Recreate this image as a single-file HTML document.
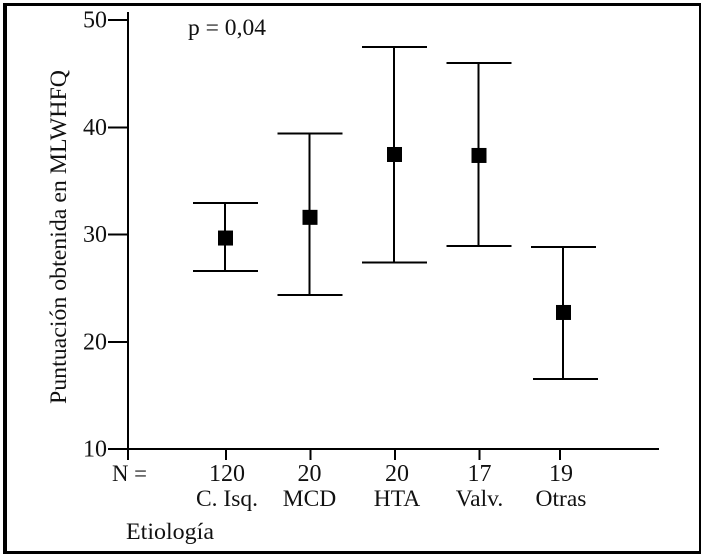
<!DOCTYPE html>
<html lang="es">
<head>
<meta charset="utf-8">
<title>Puntuación MLWHFQ por etiología</title>
<style>
html,body{margin:0;padding:0;background:#fff;}
svg{display:block;}
text{font-family:"Liberation Serif",serif;font-size:23.5px;fill:#111;}
line{shape-rendering:crispEdges;}
</style>
</head>
<body>
<svg id="chart" xmlns="http://www.w3.org/2000/svg" width="704" height="557" viewBox="0 0 704 557">
  <rect x="0" y="0" width="704" height="557" fill="#fff"/>
  <rect x="3" y="3" width="698" height="3" fill="#000"/>
  <rect x="3" y="3" width="4" height="551" fill="#000"/>
  <rect x="3" y="551" width="698" height="3" fill="#000"/>
  <rect x="699" y="3" width="2" height="551" fill="#000"/>
  <line x1="128" y1="12" x2="128" y2="460" stroke="#000" stroke-width="2"/>
  <line x1="108" y1="449" x2="659" y2="449" stroke="#000" stroke-width="2"/>
  <text transform="translate(66 404) rotate(-90)" textLength="334" lengthAdjust="spacingAndGlyphs">Puntuación obtenida en MLWHFQ</text>
  <text x="188" y="35" textLength="78" lengthAdjust="spacingAndGlyphs">p = 0,04</text>
  <text x="112" y="481" textLength="35" lengthAdjust="spacingAndGlyphs">N =</text>
  <text x="126" y="539" textLength="88" lengthAdjust="spacingAndGlyphs">Etiología</text>
  <g id="plot"></g>
</svg>
<script>
const categories = ["C. Isq.", "MCD", "HTA", "Valv.", "Otras"];
const counts = ["120", "20", "20", "17", "19"];
const means = [29.67, 31.6, 37.46, 37.37, 22.73];
const upper = [32.94, 39.4, 47.5, 46.0, 28.83];
const lower = [26.6, 24.36, 27.37, 28.93, 16.53];
const yTicks = [10, 20, 30, 40, 50];

const NS = "http://www.w3.org/2000/svg";
const plot = document.getElementById("plot");
const lastIndex = categories.length - 1;

function yScale(v) { return 449 - (v - 10) * 10.725; }
function xScale(i) { return 225.5 + 84.5 * i; }
function tickScale(i) { return i === lastIndex ? xScale(i) - 3.5 : xScale(i) + 0.5; }
function labelScale(i) {
  if (i === 1) return tickScale(i) - 1;
  if (i === 2) return tickScale(i) + 2;
  if (i === 3) return tickScale(i);
  return tickScale(i) + 1;
}

function make(tag, attrs, parent) {
  const el = document.createElementNS(NS, tag);
  for (const k in attrs) el.setAttribute(k, attrs[k]);
  parent.appendChild(el);
  return el;
}

yTicks.forEach(function (t) {
  const y = yScale(t);
  const tick = make("line", { x1: 108, x2: 128, y1: y, y2: y, stroke: "#000", "stroke-width": 2 }, plot);
  
  
  const label = make("text", { x: 107, y: y + 7.5, "text-anchor": "end", style: "font-size:24px" }, plot);
  label.textContent = String(t);
  
  
});

categories.forEach(function (name, i) {
  const tx = tickScale(i);
  const lx = labelScale(i);
  const tick = make("line", { x1: tx, x2: tx, y1: 449, y2: 460, stroke: "#000", "stroke-width": 2 }, plot);
  
  

  const countLabel = make("text", { x: lx, y: 481, "text-anchor": "middle", style: "font-size:24px" }, plot);
  countLabel.textContent = counts[i];
  
  

  const catLabel = make("text", { x: lx, y: 506, "text-anchor": "middle" }, plot);
  catLabel.textContent = name;
  
  

  const x = xScale(i);
  const yTop = yScale(upper[i]);
  const yBottom = yScale(lower[i]);
  const yMean = yScale(means[i]);
  const lowerCapShift = i === lastIndex ? 2 : 0;

  const stem = make("line", { x1: x - 0.5, x2: x - 0.5, y1: yTop, y2: yBottom, stroke: "#000", "stroke-width": 2 }, plot);
  
  

  const capTop = make("line", { x1: x - 32.5, x2: x + 32.5, y1: yTop, y2: yTop, stroke: "#000", "stroke-width": 2 }, plot);
  
  

  const capBottom = make("line", { x1: x - 32.5 + lowerCapShift, x2: x + 32.5 + lowerCapShift, y1: yBottom, y2: yBottom, stroke: "#000", "stroke-width": 2 }, plot);
  
  

  const marker = make("rect", { x: x - 7.5, y: yMean - 7.5, width: 15, height: 15, fill: "#000" }, plot);
  
  
});
</script>
</body>
</html>
